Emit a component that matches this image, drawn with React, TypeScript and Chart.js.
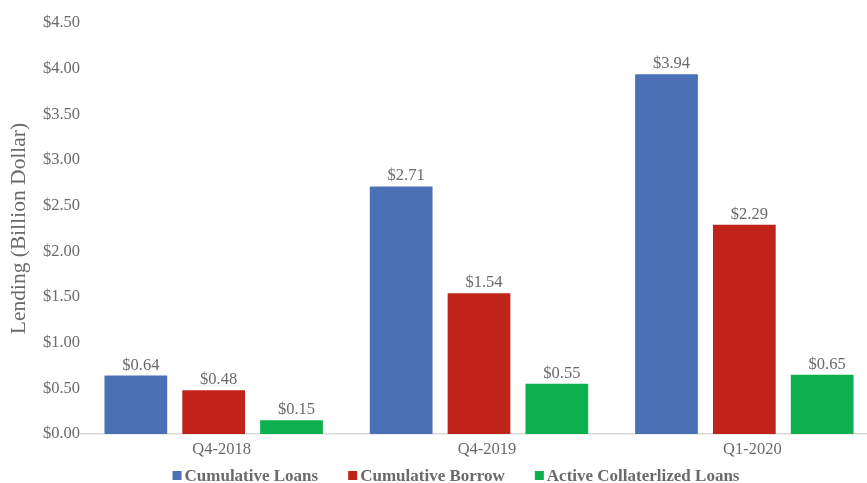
import React, { useEffect, useRef } from "react";
import { Chart, registerables } from "chart.js";

Chart.register(...registerables);

const categories = ["Q4-2018", "Q4-2019", "Q1-2020"];
const cumulativeLoans = [0.64, 2.71, 3.94];
const cumulativeBorrow = [0.48, 1.54, 2.29];
const activeCollateralized = [0.15, 0.55, 0.65];
const seriesNames = ["Cumulative Loans", "Cumulative Borrow", "Active Collaterlized Loans"];
const seriesColors = ["#4A70B5", "#C0231A", "#0CB04F"];

const TEXT = "#6A6A6A";
const SERIF = "'Liberation Serif', 'Times New Roman', serif";

const valueLabels = {
  id: "valueLabels",
  afterDatasetsDraw(chart: any) {
    const ctx = chart.ctx;
    ctx.save();
    ctx.font = `16.5px ${SERIF}`;
    ctx.fillStyle = TEXT;
    ctx.textAlign = "center";
    ctx.textBaseline = "alphabetic";
    chart.data.datasets.forEach((ds: any, i: number) => {
      const meta = chart.getDatasetMeta(i);
      meta.data.forEach((bar: any, j: number) => {
        const v = ds.data[j] as number;
        ctx.fillText("$" + v.toFixed(2), bar.x + 5, bar.y - 6);
      });
    });
    ctx.restore();
  },
};

const customLegend = {
  id: "customLegend",
  afterDraw(chart: any) {
    const ctx = chart.ctx;
    ctx.save();
    ctx.font = `bold 17px ${SERIF}`;
    ctx.textBaseline = "middle";
    ctx.textAlign = "left";
    const box = 9;
    const gapBox = 3;
    const gapItem = 30;
    const items = chart.data.datasets.map((ds: any) => ({
      label: ds.label,
      color: ds.backgroundColor,
      w: ctx.measureText(ds.label).width,
    }));
    const total =
      items.reduce((s: number, it: any) => s + box + gapBox + it.w, 0) +
      gapItem * (items.length - 1);
    const centerX = 456;
    const cy = 475.5;
    let x = centerX - total / 2;
    items.forEach((it: any) => {
      ctx.fillStyle = it.color;
      ctx.fillRect(x, cy - box / 2, box, box);
      x += box + gapBox;
      ctx.fillStyle = TEXT;
      ctx.fillText(it.label, x, cy + 1);
      x += it.w + gapItem;
    });
    ctx.restore();
  },
};

export default function App() {
  const ref = useRef<HTMLCanvasElement | null>(null);
  useEffect(() => {
    if (!ref.current) return;
    const data = [cumulativeLoans, cumulativeBorrow, activeCollateralized];
    const chart = new Chart(ref.current, {
      type: "bar",
      data: {
        labels: categories,
        datasets: seriesNames.map((name, i) => ({
          label: name,
          data: data[i],
          backgroundColor: seriesColors[i],
          borderWidth: 0,
          categoryPercentage: 0.88,
          barPercentage: 0.806,
        })),
      },
      options: {
        responsive: false,
        animation: false,
        devicePixelRatio: 1,
        layout: { padding: { top: 23, right: 1, bottom: 0, left: 0 } },
        plugins: {
          legend: { display: false },
          tooltip: { enabled: false },
        },
        scales: {
          x: {
            grid: { display: false, drawTicks: false },
            border: { display: true, color: "#D9D9D9", width: 1.5 },
            ticks: {
              color: TEXT,
              font: { family: SERIF, size: 16.5 },
              padding: 6,
              labelOffset: 8,
            },
            afterFit(scale: any) {
              scale.height = 49;
            },
          },
          y: {
            min: 0,
            max: 4.5,
            grid: { display: false, drawTicks: false },
            border: { display: false },
            ticks: {
              stepSize: 0.5,
              color: TEXT,
              font: { family: SERIF, size: 16.5 },
              padding: 1,
              callback: (v: any) => "$" + Number(v).toFixed(2),
            },
            title: {
              display: true,
              text: "Lending (Billion Dollar)",
              color: TEXT,
              font: { family: SERIF, size: 21.5 },
              padding: { top: 6, bottom: 0 },
            },
            afterFit(scale: any) {
              scale.width = 81;
            },
          },
        },
      },
      plugins: [valueLabels, customLegend],
    });
    return () => chart.destroy();
  }, []);
  return (
    <div
      style={{
        position: "fixed",
        left: 0,
        top: 0,
        width: 867,
        height: 483,
        overflow: "hidden",
        background: "#fff",
      }}
    >
      <canvas ref={ref} width={878} height={483} style={{ width: 878, height: 483, display: "block" }} />
    </div>
  );
}
